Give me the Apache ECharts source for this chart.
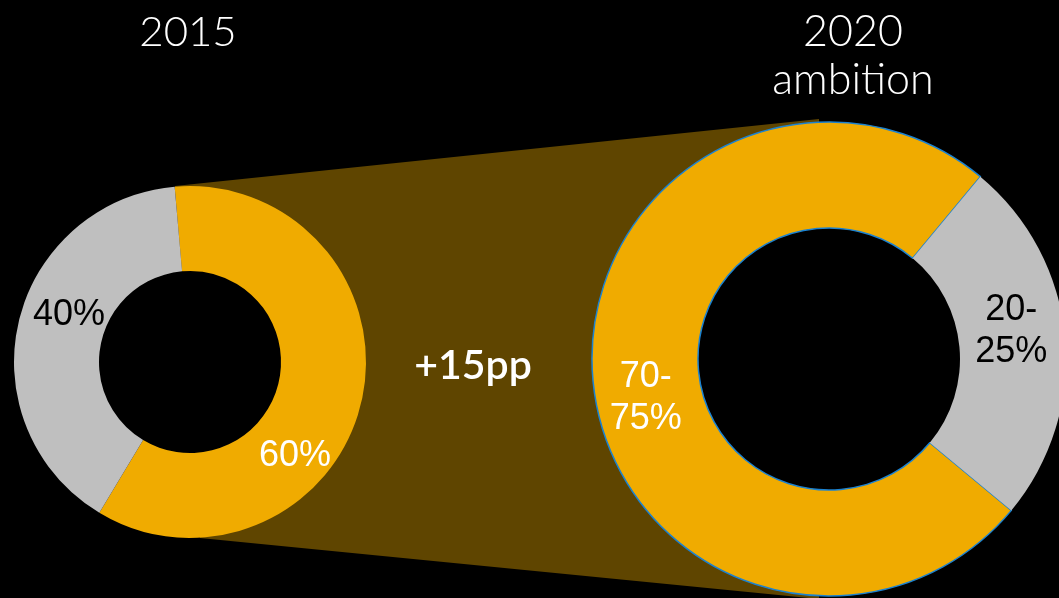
<!DOCTYPE html>
<html>
<head>
<meta charset="utf-8">
<title>Share 2015 vs 2020 ambition</title>
<script src="https://cdn.jsdelivr.net/npm/echarts@6/dist/echarts.min.js"></script>
<style>
  html, body { margin: 0; padding: 0; background: #000; }
  #chart { width: 1059px; height: 598px; }
</style>
</head>
<body>
<div id="chart"></div>
<script>
// Segment names and values for each ring
const segments = ['Share', 'Other'];
const values2015 = [60, 40];
const labels2015 = ['60%', '40%'];
const values2020 = [75, 25];          // upper end of the ambition range
const labels2020 = ['70-\n75%', '20-\n25%'];
const titles = ['2015', '2020\nambition'];
const deltaText = '+' + (values2020[0] - values2015[0]) + 'pp';

// Layout
const W = 1059, H = 598;
const ringA = { cx: 190, cy: 362, r0: 91, r1: 176, start: 95 };
const ringB = { cx: 829, cy: 359, r0: 131, r1: 237, start: 320.3 };
const ORANGE = '#F0AB00', GREY = '#BFBFBF', BROWN = '#5F4500', EDGE = '#1B82D1';
const LABEL_FONT = '"Liberation Sans", Arial, sans-serif';
const TITLE_FONT = 'Lato, "Open Sans", sans-serif';

// Nudges applied to the default inside label spot of each slice
const nudgeA = [[-28, 63], [12, -16]];
const nudgeB = [[3, 22], [-4, -11]];
const labelInk = [['#fff', '#000'], ['#fff', '#000']];

function ringSeries(ring, vals, texts, nudge, ink, outlined) {
  return {
    type: 'pie',
    center: [ring.cx, ring.cy],
    radius: [ring.r0, ring.r1],
    startAngle: ring.start,
    clockwise: true,
    silent: true,
    avoidLabelOverlap: false,
    label: {
      show: true,
      position: 'inside',
      fontFamily: LABEL_FONT,
      fontSize: 36,
      lineHeight: 42,
      align: 'center',
      formatter: p => texts[p.dataIndex]
    },
    labelLine: { show: false },
    labelLayout: p => ({ dx: nudge[p.dataIndex][0], dy: nudge[p.dataIndex][1] }),
    emphasis: { disabled: true },
    data: vals.map((v, i) => ({
      name: segments[i],
      value: v,
      itemStyle: {
        color: i === 0 ? ORANGE : GREY,
        borderColor: (outlined && i === 0) ? EDGE : 'transparent',
        borderWidth: (outlined && i === 0) ? 1.5 : 0
      },
      label: { color: ink[i] }
    }))
  };
}

// Connector band between the top and bottom of the two rings
const band = [
  [ringA.cx - 15, ringA.cy - ringA.r1],
  [ringB.cx - 10, ringB.cy - ringB.r1 - 3],
  [ringB.cx - 10, ringB.cy + ringB.r1 + 3],
  [ringA.cx + 10, ringA.cy + ringA.r1]
];

// Black discs keep the ring holes clear of the band
const holes = [ringA, ringB].map(r => ({
  type: 'circle', z: 1,
  shape: { cx: r.cx, cy: r.cy, r: r.r0 + 1 },
  style: { fill: '#000' }
}));

const chart = echarts.init(document.getElementById('chart'), null, { renderer: 'canvas', width: W, height: H });
chart.setOption({
  backgroundColor: '#000',
  animation: false,
  graphic: [
    { type: 'polygon', z: 0, shape: { points: band }, style: { fill: BROWN } },
    ...holes,
    {
      type: 'text', z: 10, x: 188, y: 32,
      style: { text: titles[0], fill: '#fff', font: '300 42px ' + TITLE_FONT, textAlign: 'center', textVerticalAlign: 'middle' }
    },
    {
      type: 'text', z: 10, x: 853, y: 56,
      style: { text: titles[1], fill: '#fff', font: '300 43px ' + TITLE_FONT, lineHeight: 48, textAlign: 'center', textVerticalAlign: 'middle' }
    },
    {
      type: 'text', z: 10, x: 473, y: 366,
      style: { text: deltaText, fill: '#fff', font: '600 41px ' + TITLE_FONT, textAlign: 'center', textVerticalAlign: 'middle' }
    }
  ],
  series: [
    ringSeries(ringA, values2015, labels2015, nudgeA, labelInk[0], false),
    ringSeries(ringB, values2020, labels2020, nudgeB, labelInk[1], true)
  ]
});
</script>
</body>
</html>
